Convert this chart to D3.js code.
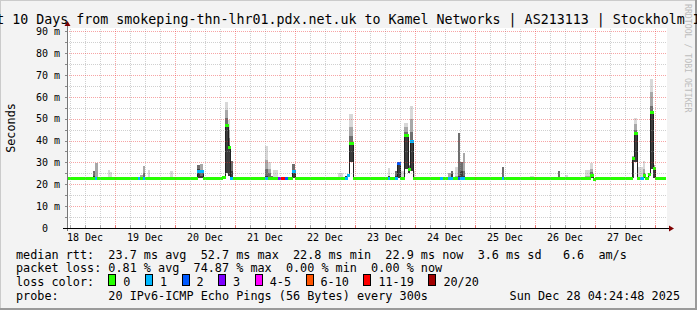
<!DOCTYPE html>
<html>
<head>
<meta charset="utf-8">
<script src="https://cdn.jsdelivr.net/npm/d3@7"></script>
<style>
  html, body { margin: 0; padding: 0; background: #f3f3f3; overflow: hidden; }
  svg { display: block; font-family: 'DejaVu Sans Mono', monospace; }
  text { white-space: pre; }
</style>
</head>
<body>
<svg id="chart"></svg>
<script>
const parseTime = d3.utcParse('%Y-%m-%d %H:%M');

const title = 'Last 10 Days from smokeping-thn-lhr01.pdx.net.uk to Kamel Networks | AS213113 | Stockholm IPv6';
const yLabel = 'Seconds';
const watermark = 'RRDTOOL / TOBI OETIKER';

const timeRange = ['2025-12-18 05:00', '2025-12-28 05:00'];
const dataEnd = '2025-12-28 04:00';
const yMaxMs = 91.5;
const yMajorTicks = [0, 10, 20, 30, 40, 50, 60, 70, 80, 90];
const yMinorTicks = [5, 15, 25, 35, 45, 55, 65, 75, 85];
const dayLabels = ['2025-12-18 12:00', '2025-12-19 12:00', '2025-12-20 12:00', '2025-12-21 12:00', '2025-12-22 12:00',
  '2025-12-23 12:00', '2025-12-24 12:00', '2025-12-25 12:00', '2025-12-26 12:00', '2025-12-27 12:00'];

// median rtt (ms) and lost pings, each value holds until the next row
const medianSteps = [
  ['2025-12-18 05:00', 22.9, 0],
  ['2025-12-18 16:00', 22.9, 1],
  ['2025-12-18 17:00', 22.9, 0],
  ['2025-12-19 09:15', 22.9, 1],
  ['2025-12-19 10:15', 22.9, 0],
  ['2025-12-19 11:15', 22.9, 1],
  ['2025-12-19 12:00', 22.9, 0],
  ['2025-12-20 09:00', 26.0, 1],
  ['2025-12-20 11:30', 22.9, 0],
  ['2025-12-20 19:00', 23.5, 0],
  ['2025-12-20 20:00', 47.0, 0],
  ['2025-12-20 21:15', 37.2, 0],
  ['2025-12-20 22:00', 22.9, 1],
  ['2025-12-20 23:15', 22.9, 0],
  ['2025-12-21 12:00', 22.9, 1],
  ['2025-12-21 13:30', 22.9, 0],
  ['2025-12-21 17:30', 22.9, 3],
  ['2025-12-21 18:30', 22.9, 15],
  ['2025-12-21 20:15', 22.9, 2],
  ['2025-12-21 21:30', 22.9, 0],
  ['2025-12-21 23:00', 26.0, 1],
  ['2025-12-22 00:15', 22.9, 0],
  ['2025-12-22 20:15', 22.9, 1],
  ['2025-12-22 21:00', 24.3, 1],
  ['2025-12-22 21:45', 38.8, 0],
  ['2025-12-22 23:30', 22.9, 0],
  ['2025-12-23 13:15', 22.9, 1],
  ['2025-12-23 14:15', 22.9, 0],
  ['2025-12-23 16:15', 22.9, 1],
  ['2025-12-23 17:00', 29.6, 2],
  ['2025-12-23 18:15', 22.9, 0],
  ['2025-12-23 19:45', 42.5, 0],
  ['2025-12-23 21:30', 27.0, 0],
  ['2025-12-23 22:15', 40.0, 1],
  ['2025-12-23 23:15', 22.9, 0],
  ['2025-12-24 10:15', 22.9, 1],
  ['2025-12-24 11:15', 22.9, 0],
  ['2025-12-24 13:30', 22.9, 1],
  ['2025-12-24 15:15', 22.9, 0],
  ['2025-12-24 17:30', 22.9, 2],
  ['2025-12-24 18:15', 22.9, 1],
  ['2025-12-24 20:15', 22.9, 0],
  ['2025-12-25 11:00', 22.9, 1],
  ['2025-12-25 12:00', 22.9, 0],
  ['2025-12-26 22:15', 24.3, 0],
  ['2025-12-26 23:15', 22.6, 0],
  ['2025-12-27 00:15', 22.9, 0],
  ['2025-12-27 15:00', 31.9, 0],
  ['2025-12-27 15:45', 43.5, 0],
  ['2025-12-27 17:00', 22.9, 0],
  ['2025-12-27 18:00', 22.9, 1],
  ['2025-12-27 19:30', 24.3, 0],
  ['2025-12-27 20:15', 23.1, 0],
  ['2025-12-27 21:15', 24.6, 0],
  ['2025-12-27 22:00', 52.9, 0],
  ['2025-12-27 23:15', 27.3, 0],
  ['2025-12-28 00:15', 22.9, 0]
];

// smoke: from, to, lowest ping, then upper ping levels (ms), dark to light
const smoke = [
  ['2025-12-18 15:30', '2025-12-18 16:15', 22.9, 24.0, 26.2, 26.2, 26.2],
  ['2025-12-18 16:15', '2025-12-18 17:15', 22.9, 22.9, 23.5, 29.9, 29.9],
  ['2025-12-18 21:15', '2025-12-18 22:00', 22.9, 22.9, 22.9, 22.9, 26.5],
  ['2025-12-18 22:00', '2025-12-18 23:00', 22.9, 23.3, 23.3, 23.3, 25.6],
  ['2025-12-19 10:15', '2025-12-19 11:15', 22.9, 22.9, 22.9, 24.1, 24.1],
  ['2025-12-19 11:15', '2025-12-19 12:00', 22.9, 23.5, 25.0, 28.4, 28.4],
  ['2025-12-19 13:15', '2025-12-19 14:15', 22.9, 22.9, 22.9, 22.9, 26.5],
  ['2025-12-19 22:15', '2025-12-19 23:30', 22.9, 22.9, 22.9, 22.9, 26.2],
  ['2025-12-20 09:00', '2025-12-20 10:15', 22.9, 27.0, 29.0, 29.0, 29.0],
  ['2025-12-20 10:15', '2025-12-20 11:30', 22.9, 24.0, 26.5, 29.3, 29.3],
  ['2025-12-20 19:00', '2025-12-20 20:00', 22.9, 23.2, 23.2, 23.2, 24.0],
  ['2025-12-20 20:00', '2025-12-20 21:15', 25.0, 47.5, 50.5, 54.0, 57.5],
  ['2025-12-20 21:15', '2025-12-20 22:00', 24.0, 38.0, 41.0, 45.0, 49.5],
  ['2025-12-20 22:00', '2025-12-20 23:15', 22.9, 26.0, 30.5, 30.5, 30.5],
  ['2025-12-21 12:00', '2025-12-21 13:30', 22.9, 24.0, 27.0, 31.0, 37.5],
  ['2025-12-21 13:30', '2025-12-21 14:30', 22.9, 23.5, 25.0, 27.0, 30.4],
  ['2025-12-21 14:30', '2025-12-21 15:30', 22.9, 23.8, 24.0, 24.0, 24.0],
  ['2025-12-21 15:30', '2025-12-21 17:30', 22.9, 22.9, 22.9, 22.9, 26.5],
  ['2025-12-21 23:00', '2025-12-22 00:15', 22.9, 26.0, 29.3, 29.3, 29.3],
  ['2025-12-22 17:15', '2025-12-22 19:30', 22.9, 22.9, 22.9, 23.5, 25.0],
  ['2025-12-22 20:15', '2025-12-22 21:00', 22.9, 24.0, 24.0, 24.0, 24.0],
  ['2025-12-22 21:45', '2025-12-22 23:30', 30.0, 38.8, 42.0, 46.0, 52.2],
  ['2025-12-23 13:15', '2025-12-23 14:15', 22.9, 23.8, 23.8, 23.8, 27.5],
  ['2025-12-23 16:15', '2025-12-23 17:00', 22.9, 24.0, 26.2, 26.2, 26.2],
  ['2025-12-23 17:00', '2025-12-23 18:15', 22.9, 29.9, 29.9, 29.9, 29.9],
  ['2025-12-23 18:15', '2025-12-23 19:45', 22.9, 22.9, 22.9, 22.9, 26.2],
  ['2025-12-23 19:45', '2025-12-23 21:30', 27.0, 42.5, 44.0, 46.0, 48.2],
  ['2025-12-23 21:30', '2025-12-23 22:15', 25.0, 27.5, 28.5, 29.0, 29.0],
  ['2025-12-23 22:15', '2025-12-23 23:15', 26.0, 40.0, 44.0, 50.0, 55.8],
  ['2025-12-23 23:15', '2025-12-24 00:00', 22.9, 22.9, 22.9, 22.9, 26.2],
  ['2025-12-24 13:30', '2025-12-24 14:30', 22.9, 22.9, 23.5, 25.0, 25.0],
  ['2025-12-24 14:30', '2025-12-24 15:15', 22.9, 24.5, 26.2, 26.2, 26.2],
  ['2025-12-24 16:00', '2025-12-24 17:30', 22.9, 22.9, 22.9, 24.0, 27.8],
  ['2025-12-24 17:30', '2025-12-24 18:15', 22.9, 24.0, 43.3, 43.3, 43.3],
  ['2025-12-24 18:15', '2025-12-24 19:15', 22.9, 26.0, 30.4, 30.4, 30.4],
  ['2025-12-24 19:15', '2025-12-24 20:15', 22.9, 24.0, 26.0, 34.2, 34.2],
  ['2025-12-25 11:00', '2025-12-25 12:00', 22.9, 23.5, 28.0, 28.0, 28.0],
  ['2025-12-25 22:00', '2025-12-25 23:45', 22.9, 22.9, 22.9, 22.9, 23.8],
  ['2025-12-26 09:15', '2025-12-26 10:15', 22.9, 23.3, 26.2, 26.2, 26.2],
  ['2025-12-26 12:00', '2025-12-26 13:15', 22.9, 22.9, 22.9, 22.9, 24.3],
  ['2025-12-26 20:15', '2025-12-26 22:15', 22.9, 22.9, 22.9, 24.0, 26.5],
  ['2025-12-26 22:15', '2025-12-26 23:30', 22.9, 24.3, 25.5, 27.0, 29.6],
  ['2025-12-27 15:00', '2025-12-27 15:45', 22.9, 31.9, 32.5, 33.0, 33.0],
  ['2025-12-27 15:45', '2025-12-27 17:00', 30.0, 43.5, 45.0, 47.5, 50.2],
  ['2025-12-27 17:15', '2025-12-27 19:15', 22.9, 22.9, 22.9, 23.5, 28.0],
  ['2025-12-27 19:15', '2025-12-27 20:15', 22.9, 24.0, 25.0, 27.0, 30.7],
  ['2025-12-27 21:15', '2025-12-27 22:00', 22.9, 22.9, 22.9, 22.9, 25.0],
  ['2025-12-27 22:00', '2025-12-27 23:15', 27.0, 52.9, 56.0, 62.0, 68.2],
  ['2025-12-27 23:15', '2025-12-28 00:15', 22.9, 27.3, 28.0, 29.0, 29.0]
];

const lossLabels = ['0', '1', '2', '3', '4-5', '6-10', '11-19', '20/20'];
const lossMax = [0, 1, 2, 3, 5, 10, 19, 20];
const lossColors = ['#26ff00', '#00b8ff', '#0059ff', '#7e00ff', '#ff00ff', '#ff5500', '#ff0000', '#a10000'];

const rttLegend = 'median rtt:  23.7 ms avg  52.7 ms max  22.8 ms min  22.9 ms now  3.6 ms sd   6.6  am/s';
const lossLegend = 'packet loss: 0.81 % avg  74.87 % max  0.00 % min  0.00 % now';
const lossColorLabel = 'loss color:';
const probeLegend = 'probe:       20 IPv6-ICMP Echo Pings (56 Bytes) every 300s';
const stamp = 'Sun Dec 28 04:24:48 2025';

const W = 697, H = 310;
const plotLeft = 67, plotTop = 28, plotW = 600, plotH = 200;
const plotBottom = plotTop + plotH;
const pitch = 7.1;
const smokeShades = ['#3c3c3c', '#6e6e6e', '#a8a8a8', '#d8d8d8'];

const x = d3.scaleUtc().domain(timeRange.map(parseTime)).range([plotLeft, plotLeft + plotW]);
const y = d3.scaleLinear().domain([0, yMaxMs]).range([plotBottom, plotTop]);
const lossColor = n => lossColors[lossMax.findIndex(m => n <= m)];

const svg = d3.select('#chart').attr('width', W).attr('height', H);

svg.append('rect').attr('width', W).attr('height', H).attr('fill', '#f3f3f3');
svg.append('path').attr('d', `M0,${H} V0 H${W}`).attr('fill', 'none').attr('stroke', '#cbcbcb').attr('stroke-width', 2);
svg.append('path').attr('d', `M0,${H - 1} H${W - 1} V0`).attr('fill', 'none').attr('stroke', '#9a9a9a').attr('stroke-width', 2);
svg.append('rect').attr('x', plotLeft).attr('y', plotTop).attr('width', plotW).attr('height', plotH).attr('fill', '#fff');

// smoke
const gSmoke = svg.append('g').attr('shape-rendering', 'crispEdges');
smoke.forEach(s => {
  const x0 = x(parseTime(s[0])), x1 = x(parseTime(s[1]));
  const levels = s.slice(2);
  for (let i = 0; i < 4; i++) {
    if (levels[i + 1] <= levels[i]) continue;
    gSmoke.append('rect')
      .attr('x', Math.round(x0)).attr('width', Math.max(1, Math.round(x1) - Math.round(x0)))
      .attr('y', Math.round(y(levels[i + 1])))
      .attr('height', Math.max(1, Math.round(y(levels[i])) - Math.round(y(levels[i + 1]))))
      .attr('fill', smokeShades[i]);
  }
});

// median line
const steps = medianSteps.map(d => ({ t: parseTime(d[0]), v: d[1], loss: d[2] }));
const lineData = steps.concat([{ t: parseTime(dataEnd), v: steps[steps.length - 1].v }]);
svg.append('path')
  .datum(lineData)
  .attr('fill', 'none').attr('stroke', '#202020').attr('stroke-width', 1)
  .attr('shape-rendering', 'crispEdges')
  .attr('d', d3.line().x(d => Math.round(x(d.t)) + 0.5).y(d => Math.round(y(d.v)) + 0.5).curve(d3.curveStepAfter));

svg.append('g').attr('shape-rendering', 'crispEdges')
  .selectAll('rect').data(steps).join('rect')
  .attr('x', d => Math.round(x(d.t)))
  .attr('width', (d, i) => Math.round(x(lineData[i + 1].t)) - Math.round(x(d.t)) + 1)
  .attr('y', d => Math.round(y(d.v)) - 1)
  .attr('height', 2.5)
  .attr('fill', d => lossColor(d.loss));

// grid on top of the data, like rrdtool
const minorColor = 'rgba(150,150,150,0.45)';
const majorColor = 'rgba(235,40,40,0.42)';
const gridStyle = (g, color) => g.call(s => s.select('.domain').remove())
  .call(s => s.selectAll('line').attr('stroke', color).attr('stroke-dasharray', '1,1'));

const sixHours = d3.utcHour.every(6).range(x.domain()[0], x.domain()[1]).filter(d => d.getUTCHours() !== 0);
const midnights = d3.utcDay.range(x.domain()[0], x.domain()[1]);

svg.append('g').attr('transform', `translate(${plotLeft},0)`).attr('shape-rendering', 'crispEdges')
  .call(d3.axisLeft(y).tickValues(yMinorTicks).tickSize(-plotW).tickFormat(''))
  .call(g => gridStyle(g, minorColor));
svg.append('g').attr('transform', `translate(0,${plotBottom})`).attr('shape-rendering', 'crispEdges')
  .call(d3.axisBottom(x).tickValues(sixHours).tickSize(-plotH).tickFormat(''))
  .call(g => gridStyle(g, minorColor));
svg.append('g').attr('transform', `translate(${plotLeft},0)`).attr('shape-rendering', 'crispEdges')
  .call(d3.axisLeft(y).tickValues(yMajorTicks.slice(1)).tickSize(-plotW).tickFormat(''))
  .call(g => gridStyle(g, majorColor));
svg.append('g').attr('transform', `translate(0,${plotBottom})`).attr('shape-rendering', 'crispEdges')
  .call(d3.axisBottom(x).tickValues(midnights).tickSize(-plotH).tickFormat(''))
  .call(g => gridStyle(g, majorColor));

// axes
svg.append('g').attr('transform', `translate(0,${plotBottom})`).attr('shape-rendering', 'crispEdges')
  .call(d3.axisBottom(x).tickValues(sixHours).tickSize(3).tickFormat(''))
  .call(g => g.select('.domain').remove())
  .call(g => g.selectAll('line').attr('stroke', '#aaa').attr('transform', 'translate(0,-3)'));
svg.append('g').attr('transform', `translate(0,${plotBottom})`).attr('shape-rendering', 'crispEdges')
  .call(d3.axisBottom(x).tickValues(midnights).tickSize(3).tickFormat(''))
  .call(g => g.select('.domain').remove())
  .call(g => g.selectAll('line').attr('stroke', '#ee7777').attr('transform', 'translate(0,-3)'));

svg.append('g').attr('transform', `translate(${plotLeft},0)`).attr('shape-rendering', 'crispEdges')
  .call(d3.axisLeft(y).tickValues(yMinorTicks.concat(yMajorTicks)).tickSize(2).tickFormat(''))
  .call(g => g.select('.domain').remove())
  .call(g => g.selectAll('line').attr('stroke', '#888'));

svg.append('g').attr('transform', `translate(${plotLeft},0)`)
  .call(d3.axisLeft(y).tickValues(yMajorTicks).tickSize(0).tickPadding(7)
    .tickFormat(d => d ? `${d} m` : '0  '))
  .call(g => g.select('.domain').remove())
  .call(g => g.selectAll('text').attr('font-family', 'DejaVu Sans Mono').attr('font-size', 10).attr('fill', '#000'));

svg.append('g').attr('transform', `translate(0,${plotBottom})`)
  .call(d3.axisBottom(x).tickValues(dayLabels.map(parseTime)).tickSize(0).tickPadding(6)
    .tickFormat(d3.utcFormat('%d %b')))
  .call(g => g.select('.domain').remove())
  .call(g => g.selectAll('text').attr('font-family', 'DejaVu Sans Mono').attr('font-size', 10).attr('fill', '#000'));

svg.append('line').attr('x1', plotLeft + 0.5).attr('x2', plotLeft + 0.5).attr('y1', plotBottom + 3).attr('y2', plotTop - 5)
  .attr('stroke', '#777').attr('shape-rendering', 'crispEdges');
svg.append('line').attr('x1', plotLeft - 4).attr('x2', plotLeft + plotW + 3).attr('y1', plotBottom + 0.5).attr('y2', plotBottom + 0.5)
  .attr('stroke', '#000').attr('shape-rendering', 'crispEdges');
svg.append('path').attr('d', `M${plotLeft - 2.5},${plotTop - 2} L${plotLeft + 3.5},${plotTop - 2} L${plotLeft + 0.5},${plotTop - 7} Z`).attr('fill', '#7f0000');
svg.append('path').attr('d', `M${plotLeft + plotW + 2},${plotBottom - 2.5} L${plotLeft + plotW + 2},${plotBottom + 3.5} L${plotLeft + plotW + 7},${plotBottom + 0.5} Z`).attr('fill', '#7f0000');

// texts
svg.append('text').attr('x', W / 2).attr('y', 24).attr('text-anchor', 'middle')
  .attr('font-size', 13.3).attr('fill', '#000').text(title);

svg.append('text').attr('transform', `translate(15,${(plotTop + plotBottom) / 2}) rotate(-90)`)
  .attr('text-anchor', 'middle').attr('font-size', 11.8).attr('fill', '#000').text(yLabel);

svg.append('text').attr('transform', 'translate(685,4) rotate(90)')
  .attr('font-size', 8.2).attr('fill', '#bdbdbd').text(watermark);

// legend
const legend = svg.append('g').attr('font-size', 11.8).attr('fill', '#000');
const rowY = [258.5, 272.3, 286.1, 299.9];
legend.append('text').attr('x', 16).attr('y', rowY[0]).text(rttLegend);
legend.append('text').attr('x', 16).attr('y', rowY[1]).text(lossLegend);
legend.append('text').attr('x', 16).attr('y', rowY[2]).text(lossColorLabel);
legend.append('text').attr('x', 16).attr('y', rowY[3]).text(probeLegend);
legend.append('text').attr('x', 680).attr('y', rowY[3]).attr('text-anchor', 'end').text(stamp);

let bx = 16 + 13 * pitch;
lossLabels.forEach((lab, i) => {
  legend.append('rect')
    .attr('x', Math.round(bx) + 0.5).attr('y', rowY[2] - 11.5)
    .attr('width', 7).attr('height', 11)
    .attr('fill', lossColors[i]).attr('stroke', '#000').attr('shape-rendering', 'crispEdges');
  legend.append('text').attr('x', bx + 15).attr('y', rowY[2]).text(lab);
  bx += 15 + lab.length * pitch + 14.5;
});
</script>
</body>
</html>
